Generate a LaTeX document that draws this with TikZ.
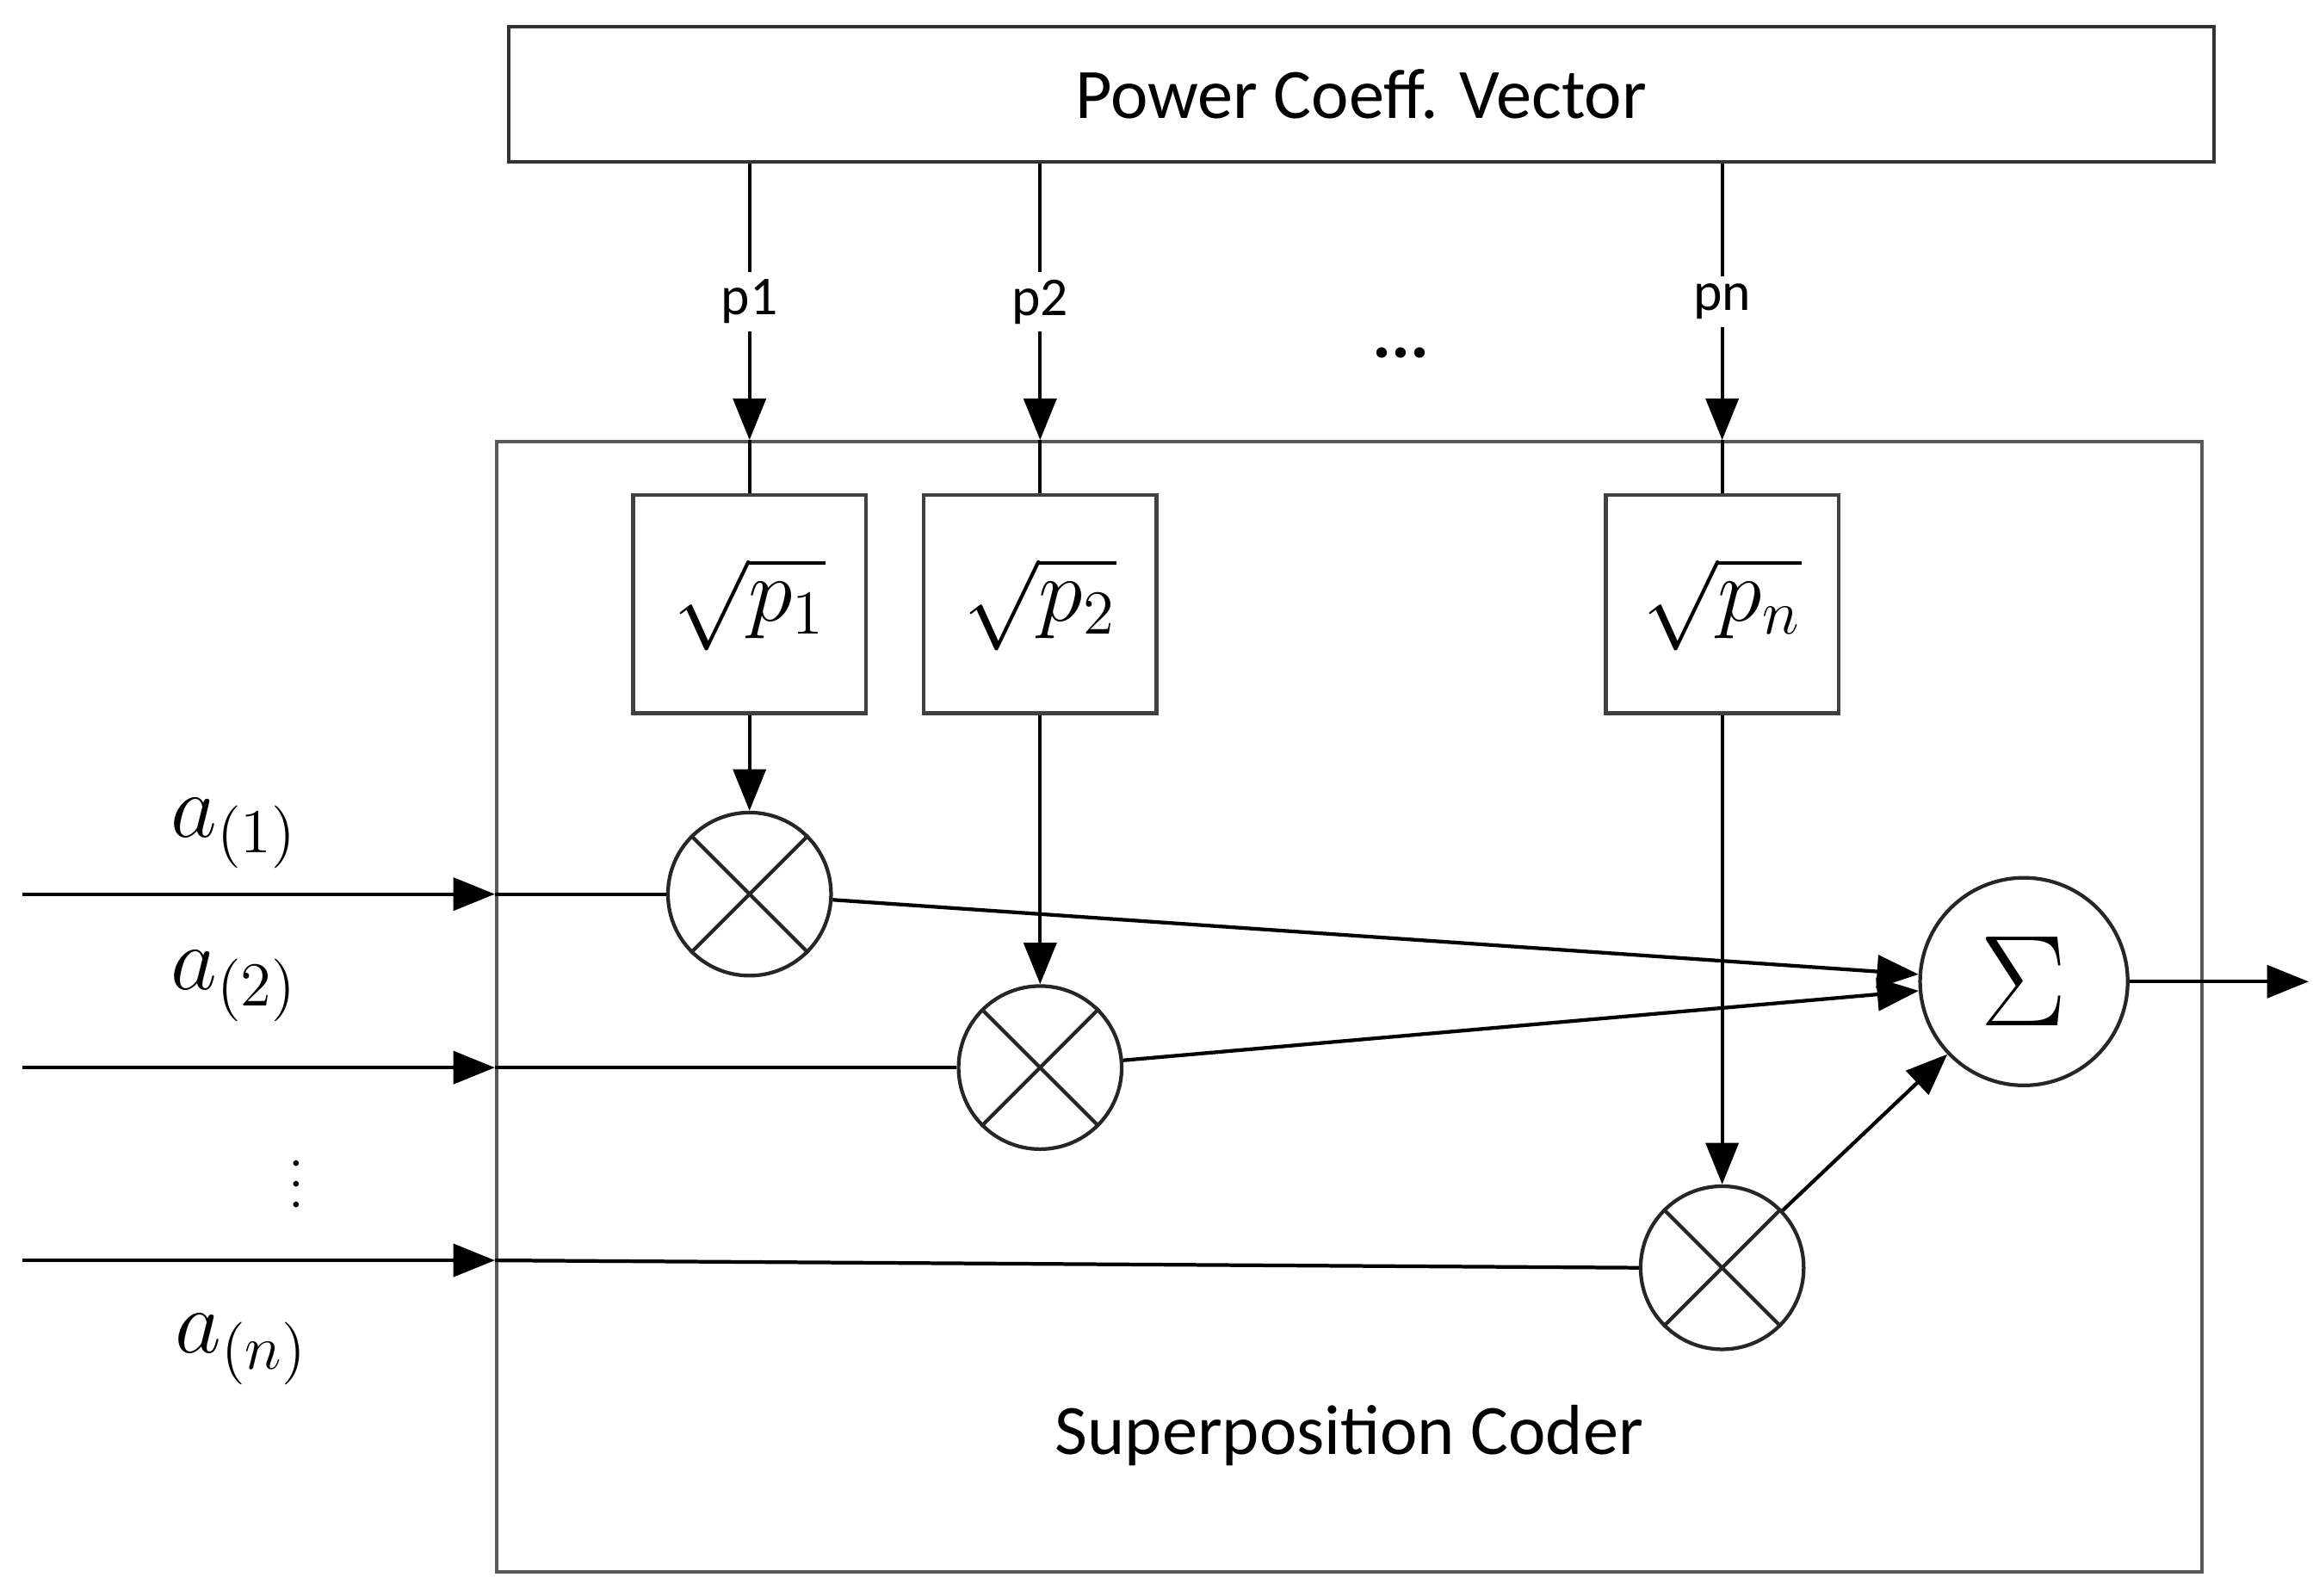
\documentclass[tikz,border=0pt]{standalone}
\usepackage{amsmath,amssymb}
\usepackage[no-math]{fontspec}
\setmainfont{Carlito}
\usepackage{tikz}
\usetikzlibrary{arrows.meta}

\begin{document}
\begin{tikzpicture}[line width=0.7pt,
    >={Triangle[length=2.8mm,width=2.2mm]},
    every node/.style={font=\fontsize{13.6}{16}\selectfont},
    rootbox/.style={draw=black!75, minimum width=1.57cm, minimum height=1.47cm, inner sep=0pt, font=\fontsize{18}{20}\selectfont},
    mult/.style={draw=black!85, circle, minimum size=1.1cm, inner sep=0pt},
    plabel/.style={fill=white, inner sep=1.5pt, font=\fontsize{10.5}{12}\selectfont},
    alabel/.style={font=\fontsize{18}{20}\selectfont}]
    \useasboundingbox (0,0) rectangle (15.6,10.76);
    \node[draw=black!80, minimum width=11.5cm, minimum height=0.91cm] (pcv) at (9.18,10.125) {Power Coeff. Vector};
    \node[draw=black!65, minimum width=11.5cm, minimum height=7.62cm] (coder) at (9.10,3.97) {};
    \node (coderlbl) at (9.10,1.08) {Superposition Coder};
    \node[rootbox] (s1) at (5.055,6.685) {$\sqrt{p_1}$};
    \node[rootbox] (s2) at (7.015,6.685) {$\sqrt{p_2}$};
    \node[rootbox] (sn) at (11.615,6.685) {$\sqrt{p_n}$};
    \node (dots) at (9.45,8.38) {\textbf{...}};
    \node[mult] (m1) at (5.055,4.73) {};
    \node[mult] (m2) at (7.015,3.56) {};
    \node[mult] (mn) at (11.615,2.21) {};
    \node[draw=black!85, circle, minimum size=1.4cm, inner sep=0pt, font=\fontsize{23}{26}\selectfont] (sum) at (13.65,4.14) {$\Sigma$};
    \coordinate (out) at (15.57,4.14);
    \coordinate (i1) at (0.15,4.73);
    \coordinate (i2) at (0.15,3.56);
    \coordinate (in) at (0.15,2.26);
    \node[alabel] (a1) at (1.58,5.14) {$a_{(1)}$};
    \node[alabel] (a2) at (1.58,4.11) {$a_{(2)}$};
    \node[inner sep=0pt, font=\fontsize{9}{10}\selectfont] (vd) at (2.0,2.88) {$\vdots$};
    \node[alabel] (an) at (1.63,1.66) {$a_{(n)}$};
    % power coefficients
    \draw[->] (pcv.south -| s1) -- node[plabel]{p1} (s1 |- coder.north);
    \draw (s1 |- coder.north) -- (s1.north);
    \draw[->] (pcv.south -| s2) -- node[plabel]{p2} (s2 |- coder.north);
    \draw (s2 |- coder.north) -- (s2.north);
    \draw[->] (pcv.south -| sn) -- node[plabel]{pn} (sn |- coder.north);
    \draw (sn |- coder.north) -- (sn.north);
    \draw[->] (s1.south) -- (m1.north);
    \draw[->] (s2.south) -- (m2.north);
    \draw[->] (sn.south) -- (mn.north);
    % multipliers
    \draw[black!85] (m1.45) -- (m1.225) (m1.135) -- (m1.315);
    \draw[black!85] (m2.45) -- (m2.225) (m2.135) -- (m2.315);
    \draw[black!85] (mn.45) -- (mn.225) (mn.135) -- (mn.315);
    % inputs
    \draw[->] (i1) -- (i1 -| coder.west);
    \draw (i1 -| coder.west) -- (m1.west);
    \draw[->] (i2) -- (i2 -| coder.west);
    \draw (i2 -| coder.west) -- (m2.west);
    \draw[->] (in) -- (in -| coder.west);
    \draw (in -| coder.west) -- (mn.west);
    % sum
    \draw[->] (m1) -- (sum);
    \draw[->] (m2) -- (sum);
    \draw[->] (mn) -- (sum);
    \draw[->] (sum) -- (out);
  \end{tikzpicture}
\end{document}
